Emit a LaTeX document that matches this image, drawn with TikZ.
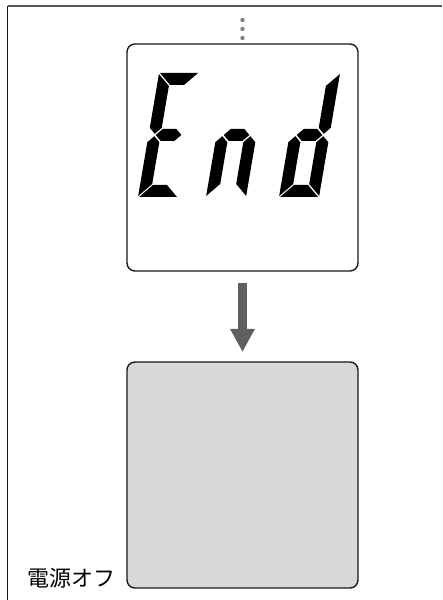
\documentclass[tikz,border=0pt]{standalone}
\usepackage{fontspec}
\newfontfamily\cjk{Noto Sans CJK JP}
\usetikzlibrary{positioning,arrows.meta}

\definecolor{offgray}{HTML}{D8D8D8}
\definecolor{arrowgray}{HTML}{5F5F5F}
\definecolor{dotgray}{HTML}{808080}
\definecolor{framegray}{HTML}{555555}

% LCD segments (digit frame 40 x 124, bar 12)
\def\lcdsega{(1,124) -- (39,124) -- (27,112) -- (13,112) -- cycle}
\def\lcdsegb{(40,123) -- (28,111) -- (28,69.2) -- (34,63.2) -- (40,69.2) -- cycle}
\def\lcdsegc{(40,1) -- (28,13) -- (28,54.8) -- (34,60.8) -- (40,54.8) -- cycle}
\def\lcdsegd{(1,0) -- (39,0) -- (27,12) -- (13,12) -- cycle}
\def\lcdsege{(0,1) -- (12,13) -- (12,54.8) -- (6,60.8) -- (0,54.8) -- cycle}
\def\lcdsegf{(0,123) -- (12,111) -- (12,69.2) -- (6,63.2) -- (0,69.2) -- cycle}
\def\lcdsegg{(7.2,62) -- (13.2,68) -- (26.8,68) -- (32.8,62) -- (26.8,56) -- (13.2,56) -- cycle}

\newcommand{\lcddigit}[2]{%
  \begin{scope}[shift={(#1,403)}, xslant=0.17]
    \foreach \s in {#2} {\fill[lcdseg] \csname lcdseg\s\endcsname;}
  \end{scope}}

\tikzset{
  screen/.style={draw=black!90, line width=1.4pt, rounded corners=8pt,
    minimum width=231pt, minimum height=227pt, inner sep=0pt, outer sep=0pt},
  lcdseg/.style={fill=black},
  flowarrow/.style={draw=arrowgray, line width=9pt,
    -{Triangle[width=23pt,length=23pt]}, shorten <=12pt, shorten >=10pt},
}

\begin{document}
\begin{tikzpicture}[x=1pt, y=1pt]
  \useasboundingbox (0,0) rectangle (442,600);

  % 1. frame
  \draw[framegray, line width=2pt] (442,594) -- (7.5,594);
  \draw[black!90, line width=1.4pt] (7.5,594) -- (7.5,0);

  % 2. the two screens
  \node[screen, fill=white] (disp) at (242.5,442.5) {};
  \node[screen, fill=offgray, minimum height=226pt, below=91pt of disp] (off) {};

  % 3. dots above the first screen
  \foreach \dy in {6,15,24}
    \fill[dotgray] ([yshift=\dy pt]disp.north) circle (2.2pt);

  % 4. "End" on the LCD
  \lcddigit{138}{a,d,e,f,g}
  \lcddigit{206}{c,e,g}
  \lcddigit{279}{b,c,d,e,g}

  % 5. arrow and label
  \draw[flowarrow] (disp.south) -- (off.north);
  \node[anchor=east, inner sep=0pt, font=\cjk\fontsize{22}{26}\selectfont]
    (offlbl) at ([xshift=-11pt, yshift=10pt]off.south west) {電源オフ};
\end{tikzpicture}
\end{document}
